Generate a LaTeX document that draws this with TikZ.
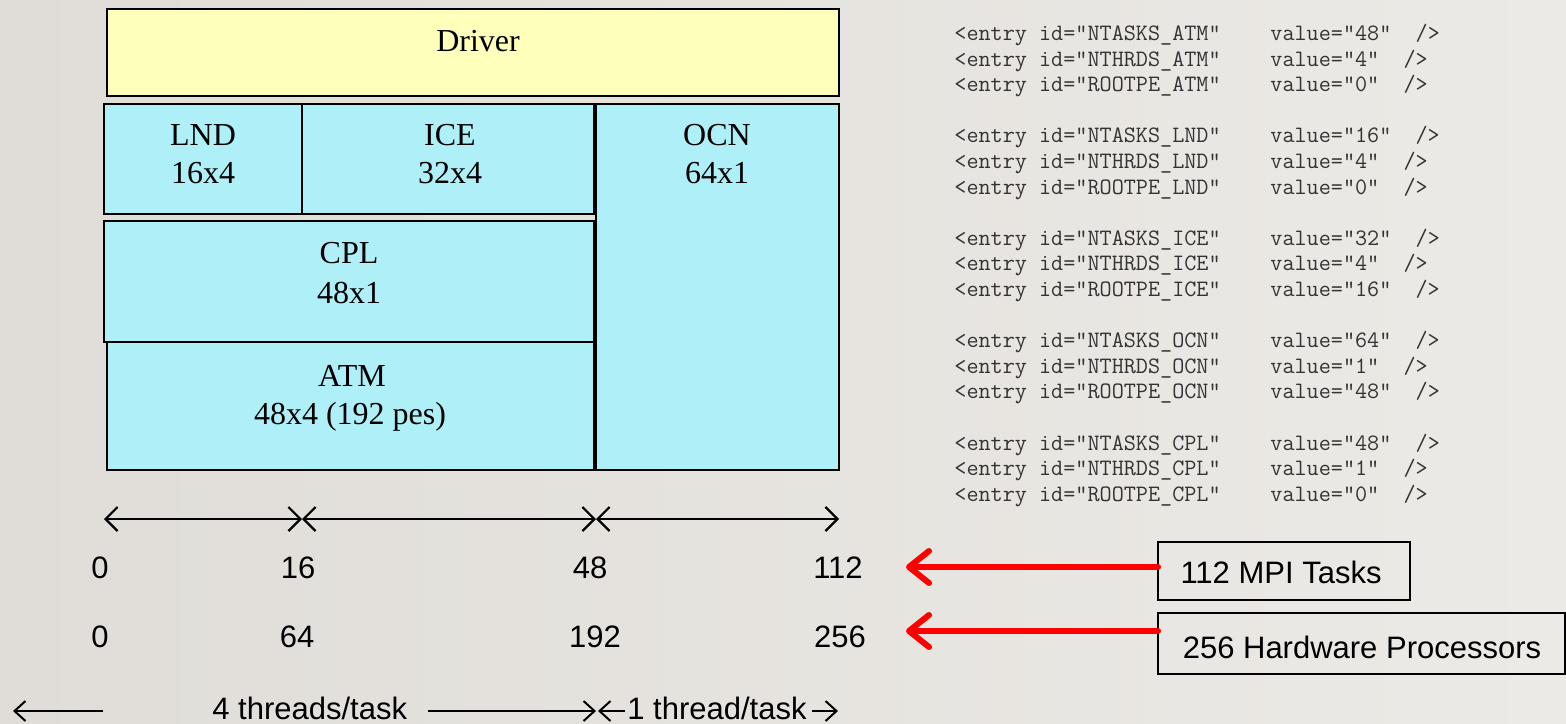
\documentclass[tikz,border=0pt]{standalone}
\usepackage{fontspec}
\setmainfont{Liberation Serif}
\setsansfont{Liberation Sans}
\usetikzlibrary{arrows.meta}
\definecolor{bgL}{HTML}{E0DDD8}
\definecolor{bgR}{HTML}{ECEAE6}
\definecolor{drv}{HTML}{FDFFBA}
\definecolor{comp}{HTML}{AEEFF8}
\definecolor{codegray}{HTML}{333333}
\begin{document}
\begin{tikzpicture}[x=0.5pt,y=-0.5pt,
  box/.style={draw=black, line width=1.1pt, inner sep=0pt, outer sep=0pt},
  drvbox/.style={box, fill=drv},
  compbox/.style={box, fill=comp},
  labelbox/.style={draw=black, line width=0.9pt, inner sep=0pt, outer sep=0pt},
  serif/.style={font=\fontsize{16}{19}\selectfont, anchor=base, inner sep=0pt},
  sans/.style={font=\sffamily\fontsize{15.5}{18}\selectfont, anchor=base, inner sep=0pt},
  sansw/.style={sans, anchor=base west},
  codeline/.style={font=\ttfamily\fontsize{11.75}{14}\selectfont, text=codegray, anchor=base west, inner sep=0pt},
  span/.style={line width=1.1pt, {Straight Barb[length=6pt,width=12pt]}-{Straight Barb[length=6pt,width=12pt]}},
  oneway/.style={line width=1pt, -{Straight Barb[length=5.5pt,width=10pt]}},
  redarrow/.style={draw=red, line width=3pt, line cap=round, -{Straight Barb[length=10pt,width=16pt,round]}}
]
% background
\useasboundingbox (0,0) rectangle (1566,723);
\shade[left color=bgL, right color=bgR] (0,0) rectangle (1566,723);

% boxes
\node[drvbox, minimum width=366pt, minimum height=43.5pt] (drv) at (473,52.5) {};
\node[compbox, minimum width=99pt, minimum height=55pt] (lnd) at (203,159) {};
\node[compbox, minimum width=146pt, minimum height=55pt] (ice) at (448,159) {};
\node[compbox, minimum width=121.5pt, minimum height=183pt] (ocn) at (717.5,287) {};
\node[compbox, minimum width=245pt, minimum height=60.5pt] (cpl) at (349,281.5) {};
\node[compbox, minimum width=243.5pt, minimum height=64pt] (atm) at (350.5,406) {};

% box texts
\node[serif] (tdrv) at (478,51) {Driver};
\node[serif] (tlnd1) at (203,145) {LND};
\node[serif] (tlnd2) at (203,183) {16x4};
\node[serif] (tice1) at (450,145) {ICE};
\node[serif] (tice2) at (450,183) {32x4};
\node[serif] (tocn1) at (717,145) {OCN};
\node[serif] (tocn2) at (717,183) {64x1};
\node[serif] (tcpl1) at (349,263) {CPL};
\node[serif] (tcpl2) at (349,303) {48x1};
\node[serif] (tatm1) at (352,386) {ATM};
\node[serif] (tatm2) at (350,424) {48x4 (192 pes)};

% span arrows
\coordinate (s0) at (104,519);
\coordinate (s1) at (302,519);
\coordinate (s2) at (596,519);
\coordinate (s3) at (839,519);
\draw[span] (s0) -- (s1);
\draw[span] (s1) -- (s2);
\draw[span] (s2) -- (s3);

% numbers
\node[sans] (a0) at (100,578) {0};
\node[sans] (a1) at (298,578) {16};
\node[sans] (a2) at (590,578) {48};
\node[sans] (a3) at (838,578) {112};
\node[sans] (b0) at (100,647) {0};
\node[sans] (b1) at (297,647) {64};
\node[sans] (b2) at (595,647) {192};
\node[sans] (b3) at (840,647) {256};

% bottom line
\coordinate (l0) at (103,711);
\coordinate (l1) at (13,711);
\node[sansw] (thr4) at (212,719) {4 threads/task};
\coordinate (m0) at (428,711);
\coordinate (m1) at (596,711);
\coordinate (n0) at (625,711);
\coordinate (n1) at (598,711);
\node[sansw] (thr1) at (627,719) {1 thread/task};
\coordinate (p0) at (812,711);
\coordinate (p1) at (838,711);
\draw[oneway] (l0) -- (l1);
\draw[oneway] (m0) -- (m1);
\draw[oneway] (n0) -- (n1);
\draw[oneway] (p0) -- (p1);

% label boxes
\node[labelbox, minimum width=126pt, minimum height=29pt] (mpi) at (1284,571) {};
\node[sans] (tmpi) at (1281,583) {112 MPI Tasks};
\node[labelbox, minimum width=203.5pt, minimum height=30.5pt] (hw) at (1361.75,643.5) {};
\node[sans] (thw) at (1362,658) {256 Hardware Processors};

% red arrows
\coordinate (r1s) at (1158,567);
\coordinate (r1e) at (906,567);
\coordinate (r2s) at (1158,631);
\coordinate (r2e) at (906,631);
\draw[redarrow] (r1s) -- (r1e);
\draw[redarrow] (r2s) -- (r2e);

% code lines
\foreach \k/\id/\val in {
  0/NTASKS\_ATM/{value=”48"~~/>},
  1/NTHRDS\_ATM/{value=“4"~~/>},
  2/ROOTPE\_ATM/{value="0"~~/>},
  4/NTASKS\_LND/{value=”16"~~/>},
  5/NTHRDS\_LND/{value=“4"~~/>},
  6/ROOTPE\_LND/{value="0"~~/>},
  8/NTASKS\_ICE/{value=”32"~~/>},
  9/NTHRDS\_ICE/{value=“4"~~/>},
  10/ROOTPE\_ICE/{value=“16"~~/>},
  12/NTASKS\_OCN/{value="64"~~/>},
  13/NTHRDS\_OCN/{value="1"~~/>},
  14/ROOTPE\_OCN/{value=“48"~~/>},
  16/NTASKS\_CPL/{value=”48"~~/>},
  17/NTHRDS\_CPL/{value="1"~~/>},
  18/ROOTPE\_CPL/{value="0"~~/>}} {
  \node[codeline] (cid\k) at (954,{40.5+25.6*\k}) {<entry id="\id"};
  \node[codeline] (cval\k) at (1270,{40.5+25.6*\k}) {\val};
}
\end{tikzpicture}
\end{document}
